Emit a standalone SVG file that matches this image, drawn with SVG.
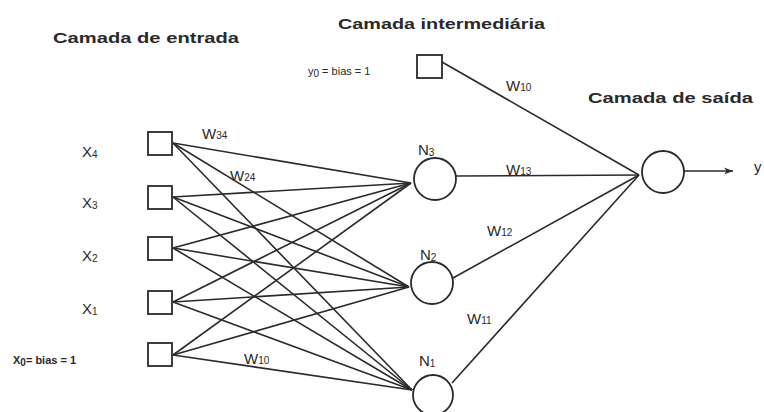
<svg xmlns="http://www.w3.org/2000/svg" width="764" height="412" viewBox="0 0 764 412">
  <style>
    .title { font-family: "Liberation Sans", Arial, sans-serif; font-size: 15px; font-weight: bold; fill: #2a2a2a; }
    .lbl { font-family: "Liberation Sans", Arial, sans-serif; font-size: 15px; fill: #2a2a2a; }
    .small { font-family: "Liberation Sans", Arial, sans-serif; font-size: 11px; fill: #2a2a2a; }
    .sub { font-size: 10px; }
    .box { fill: #fff; stroke: #2a2a2a; stroke-width: 1.8; }
    .neuron { fill: #fff; stroke: #2a2a2a; stroke-width: 1.8; }
    .edge { stroke: #2a2a2a; stroke-width: 1.6; fill: none; }
  </style>
  <defs>
    <marker id="arrow" viewBox="0 0 10 10" refX="10" refY="5" markerWidth="12" markerHeight="9" markerUnits="userSpaceOnUse" orient="auto">
      <path d="M0,1 L10,5 L0,9 L3,5 z" fill="#2a2a2a"/>
    </marker>
  </defs>
  <rect width="764" height="412" fill="#fff"/>

  <!-- layer titles -->
  <text class="title" x="53" y="43" textLength="186" lengthAdjust="spacingAndGlyphs" font-size="16">Camada de entrada</text>
  <text class="title" x="338" y="29" textLength="207" lengthAdjust="spacingAndGlyphs">Camada intermediária</text>
  <text class="title" x="588" y="103" textLength="165" lengthAdjust="spacingAndGlyphs">Camada de saída</text>

  <!-- connectors -->
  <g id="connectors">
    <!-- input layer to hidden layer -->
    <line class="edge" x1="173" y1="143" x2="411" y2="183"/>
    <line class="edge" x1="173" y1="143" x2="409" y2="287"/>
    <line class="edge" x1="173" y1="143" x2="412" y2="390"/>
    <line class="edge" x1="173" y1="197" x2="411" y2="183"/>
    <line class="edge" x1="173" y1="197" x2="409" y2="287"/>
    <line class="edge" x1="173" y1="197" x2="412" y2="390"/>
    <line class="edge" x1="173" y1="248" x2="411" y2="183"/>
    <line class="edge" x1="173" y1="248" x2="409" y2="287"/>
    <line class="edge" x1="173" y1="248" x2="412" y2="390"/>
    <line class="edge" x1="173" y1="302" x2="411" y2="183"/>
    <line class="edge" x1="173" y1="302" x2="409" y2="287"/>
    <line class="edge" x1="173" y1="302" x2="412" y2="390"/>
    <line class="edge" x1="173" y1="355" x2="411" y2="183"/>
    <line class="edge" x1="173" y1="355" x2="409" y2="287"/>
    <line class="edge" x1="173" y1="355" x2="412" y2="390"/>
    <!-- hidden layer to output -->
    <line class="edge" x1="442" y1="62" x2="639" y2="175"/>
    <line class="edge" x1="456" y1="176" x2="639" y2="175"/>
    <line class="edge" x1="453" y1="278" x2="639" y2="175"/>
    <line class="edge" x1="452" y1="383" x2="639" y2="175"/>
    <!-- output arrow -->
    <line class="edge" x1="684" y1="171" x2="733" y2="171" marker-end="url(#arrow)"/>
  </g>

  <!-- weight labels -->
  <g id="weights" class="lbl">
    <text x="202" y="139">W<tspan class="sub">34</tspan></text>
    <text x="230" y="181">W<tspan class="sub">24</tspan></text>
    <text x="244" y="364">W<tspan class="sub">10</tspan></text>
    <text x="506" y="91">W<tspan class="sub">10</tspan></text>
    <text x="506" y="175">W<tspan class="sub">13</tspan></text>
    <text x="487" y="236">W<tspan class="sub">12</tspan></text>
    <text x="467" y="324">W<tspan class="sub">11</tspan></text>
  </g>

  <!-- input layer -->
  <g id="in-x4">
    <rect class="box" x="148" y="132" width="24" height="23"/>
    <text class="lbl" x="82" y="157">X<tspan class="sub" dy="1">4</tspan></text>
  </g>
  <g id="in-x3">
    <rect class="box" x="148" y="186" width="24" height="23"/>
    <text class="lbl" x="82" y="208">X<tspan class="sub" dy="1">3</tspan></text>
  </g>
  <g id="in-x2">
    <rect class="box" x="148" y="237" width="24" height="23"/>
    <text class="lbl" x="82" y="261">X<tspan class="sub" dy="1">2</tspan></text>
  </g>
  <g id="in-x1">
    <rect class="box" x="148" y="291" width="24" height="23"/>
    <text class="lbl" x="82" y="314">X<tspan class="sub" dy="1">1</tspan></text>
  </g>
  <g id="in-x0">
    <rect class="box" x="148" y="343" width="24" height="23"/>
    <text class="small" x="13" y="364" font-weight="bold" font-size="13">X<tspan class="sub" dy="2">0</tspan><tspan dy="-2">= bias = 1</tspan></text>
  </g>

  <!-- hidden layer -->
  <g id="bias-y0">
    <rect class="box" x="417" y="55" width="25" height="23"/>
    <text class="small" x="308" y="75">y<tspan class="sub" dy="2">0</tspan><tspan dy="-2"> = bias = 1</tspan></text>
  </g>
  <g id="n3">
    <circle class="neuron" cx="435" cy="179" r="21"/>
    <text class="lbl" x="418" y="155">N<tspan class="sub" dy="1">3</tspan></text>
  </g>
  <g id="n2">
    <circle class="neuron" cx="432" cy="283" r="21"/>
    <text class="lbl" x="420" y="260">N<tspan class="sub" dy="1">2</tspan></text>
  </g>
  <g id="n1">
    <circle class="neuron" cx="433" cy="395" r="20"/>
    <text class="lbl" x="419" y="366">N<tspan class="sub" dy="1">1</tspan></text>
  </g>

  <!-- output layer -->
  <g id="out">
    <circle class="neuron" cx="663" cy="172" r="21"/>
    <text class="lbl" x="754" y="172">y</text>
  </g>
</svg>
